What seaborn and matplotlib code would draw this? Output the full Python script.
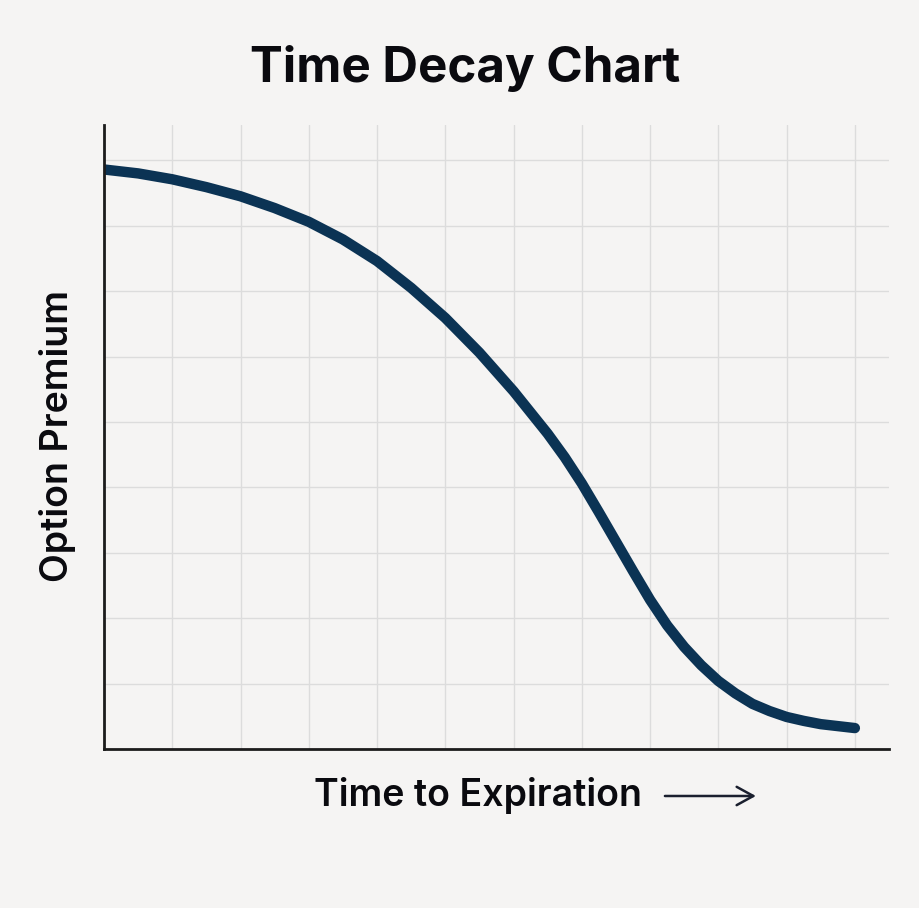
import numpy as np
import pandas as pd
import matplotlib
matplotlib.use("Agg")
import matplotlib.pyplot as plt
import seaborn as sns

# ---- data ----
time_points = [0, 0.5, 1, 1.5, 2, 2.5, 3, 3.5, 4, 4.5, 5, 5.5, 6, 6.5,
               6.75, 7, 7.25, 7.5, 7.75, 8, 8.25, 8.5, 8.75, 9, 9.25, 9.5,
               9.75, 10, 10.25, 10.5, 10.75, 11]
premium = [8.86, 8.80, 8.71, 8.59, 8.45, 8.27, 8.06, 7.79, 7.46, 7.05, 6.59,
           6.06, 5.47, 4.82, 4.46, 4.06, 3.62, 3.17, 2.72, 2.28, 1.89, 1.56,
           1.28, 1.04, 0.85, 0.69, 0.58, 0.49, 0.43, 0.38, 0.35, 0.32]
x_grid = list(range(0, 12))
y_grid = list(range(0, 10))

title = "Time Decay Chart"
xlabel = "Time to Expiration"
ylabel = "Option Premium"

df = pd.DataFrame({"time": time_points, "premium": premium})

sns.set_theme(style="white")
plt.rcParams["font.family"] = ["Inter", "DejaVu Sans"]

bg = "#f5f4f3"
fig = plt.figure(figsize=(9.2, 9.08), dpi=100, facecolor=bg)
ax = fig.add_axes([104 / 920, 1 - 749 / 908, 785 / 920, 624 / 908])
ax.set_facecolor(bg)

sns.lineplot(data=df, x="time", y="premium", ax=ax, color="#0b3354",
             linewidth=7.5, solid_capstyle="round", solid_joinstyle="round",
             zorder=3)

ax.set_xlim(0, 11.5)
ax.set_ylim(0, 9.54)
ax.set_xticks(x_grid)
ax.set_yticks(y_grid)
ax.tick_params(length=0, labelbottom=False, labelleft=False)
ax.grid(True, color="#dcdcdc", linewidth=1.0, zorder=0)

for s in ["top", "right"]:
    ax.spines[s].set_visible(False)
for s in ["left", "bottom"]:
    ax.spines[s].set_color("#1c1c1c")
    ax.spines[s].set_linewidth(2.0)
    ax.spines[s].set_zorder(4)

ax.set_xlabel(xlabel, fontsize=27, fontweight="semibold", color="#0a0a0f",
              va="center", ha="center")
ax.xaxis.set_label_coords(0.477, -0.074)
ax.set_ylabel(ylabel, fontsize=27, fontweight="semibold", color="#0a0a0f",
              va="center", ha="center")
ax.yaxis.set_label_coords(-0.0586, 0.502)

ax.annotate("", xy=(0.834, -0.0753), xytext=(0.711, -0.0753),
            xycoords="axes fraction", textcoords="axes fraction",
            arrowprops=dict(arrowstyle="->,head_length=1.0,head_width=0.55",
                            color="#1a1f2e", linewidth=1.8),
            annotation_clip=False)

fig.text(465 / 920, 1 - 69 / 908, title, fontsize=35.5, fontweight="bold",
         color="#0a0a0f", ha="center", va="center")

fig.savefig("out.png", dpi=100, facecolor=bg)
